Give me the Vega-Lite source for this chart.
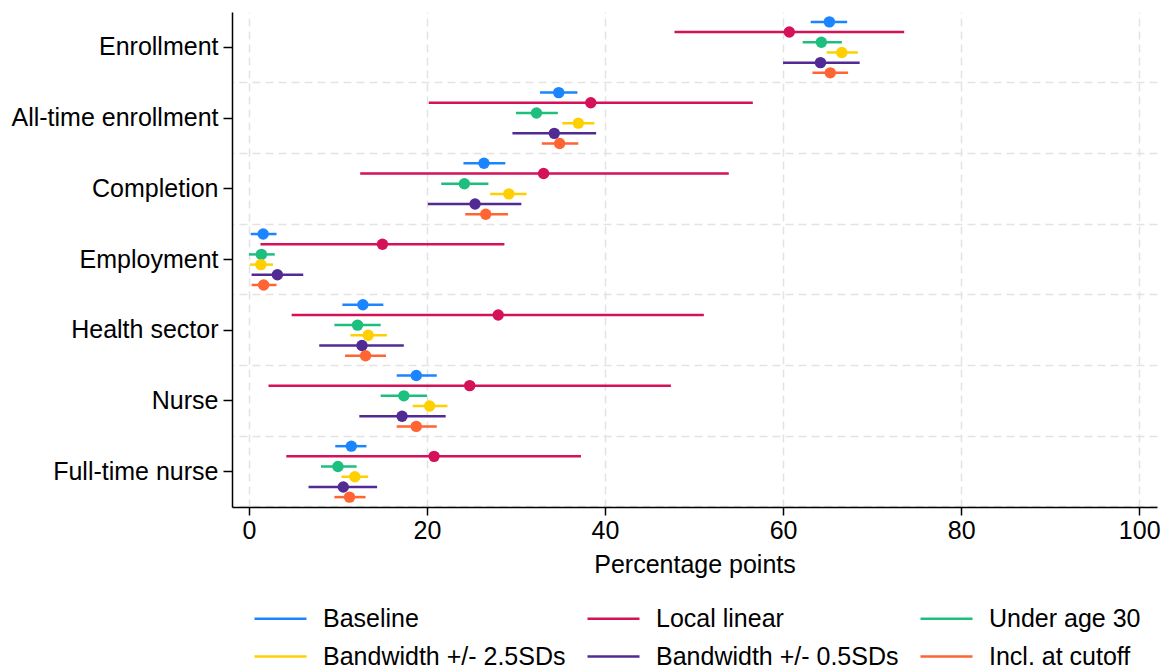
{
  "$schema": "https://vega.github.io/schema/vega-lite/v6.json",
  "autosize": {"type": "none"},
  "padding": {"left": 232, "top": 12, "right": 12, "bottom": 162},
  "width": 925,
  "height": 495,
  "background": "white",
  "config": {
    "view": {"stroke": null},
    "font": "Liberation Sans",
    "axis": {"labelFont": "Liberation Sans", "titleFont": "Liberation Sans"},
    "legend": {"labelFont": "Liberation Sans"}
  },
  "data": {
    "values": [
      {"outcome": "Enrollment", "spec": "Baseline", "est": 65.2, "lo": 63.1, "hi": 67.2},
      {"outcome": "Enrollment", "spec": "Local linear", "est": 60.7, "lo": 47.8, "hi": 73.6},
      {"outcome": "Enrollment", "spec": "Under age 30", "est": 64.3, "lo": 62.2, "hi": 66.6},
      {"outcome": "Enrollment", "spec": "Bandwidth +/- 2.5SDs", "est": 66.6, "lo": 64.9, "hi": 68.4},
      {"outcome": "Enrollment", "spec": "Bandwidth +/- 0.5SDs", "est": 64.2, "lo": 60.0, "hi": 68.6},
      {"outcome": "Enrollment", "spec": "Incl. at cutoff", "est": 65.3, "lo": 63.3, "hi": 67.3},
      {"outcome": "All-time enrollment", "spec": "Baseline", "est": 34.8, "lo": 32.7, "hi": 36.9},
      {"outcome": "All-time enrollment", "spec": "Local linear", "est": 38.4, "lo": 20.2, "hi": 56.6},
      {"outcome": "All-time enrollment", "spec": "Under age 30", "est": 32.3, "lo": 30.0, "hi": 34.7},
      {"outcome": "All-time enrollment", "spec": "Bandwidth +/- 2.5SDs", "est": 37.0, "lo": 35.2, "hi": 38.8},
      {"outcome": "All-time enrollment", "spec": "Bandwidth +/- 0.5SDs", "est": 34.3, "lo": 29.6, "hi": 39.0},
      {"outcome": "All-time enrollment", "spec": "Incl. at cutoff", "est": 34.9, "lo": 32.9, "hi": 37.0},
      {"outcome": "Completion", "spec": "Baseline", "est": 26.4, "lo": 24.1, "hi": 28.8},
      {"outcome": "Completion", "spec": "Local linear", "est": 33.1, "lo": 12.5, "hi": 53.9},
      {"outcome": "Completion", "spec": "Under age 30", "est": 24.2, "lo": 21.6, "hi": 26.9},
      {"outcome": "Completion", "spec": "Bandwidth +/- 2.5SDs", "est": 29.2, "lo": 27.1, "hi": 31.2},
      {"outcome": "Completion", "spec": "Bandwidth +/- 0.5SDs", "est": 25.4, "lo": 20.1, "hi": 30.6},
      {"outcome": "Completion", "spec": "Incl. at cutoff", "est": 26.6, "lo": 24.3, "hi": 29.1},
      {"outcome": "Employment", "spec": "Baseline", "est": 1.6, "lo": 0.2, "hi": 3.1},
      {"outcome": "Employment", "spec": "Local linear", "est": 15.0, "lo": 1.3, "hi": 28.7},
      {"outcome": "Employment", "spec": "Under age 30", "est": 1.4, "lo": 0.0, "hi": 2.9},
      {"outcome": "Employment", "spec": "Bandwidth +/- 2.5SDs", "est": 1.35, "lo": 0.1, "hi": 2.7},
      {"outcome": "Employment", "spec": "Bandwidth +/- 0.5SDs", "est": 3.2, "lo": 0.3, "hi": 6.1},
      {"outcome": "Employment", "spec": "Incl. at cutoff", "est": 1.65, "lo": 0.3, "hi": 3.1},
      {"outcome": "Health sector", "spec": "Baseline", "est": 12.8, "lo": 10.5, "hi": 15.1},
      {"outcome": "Health sector", "spec": "Local linear", "est": 28.0, "lo": 4.8, "hi": 51.1},
      {"outcome": "Health sector", "spec": "Under age 30", "est": 12.2, "lo": 9.6, "hi": 14.8},
      {"outcome": "Health sector", "spec": "Bandwidth +/- 2.5SDs", "est": 13.4, "lo": 11.4, "hi": 15.5},
      {"outcome": "Health sector", "spec": "Bandwidth +/- 0.5SDs", "est": 12.7, "lo": 7.9, "hi": 17.4},
      {"outcome": "Health sector", "spec": "Incl. at cutoff", "est": 13.1, "lo": 10.8, "hi": 15.4},
      {"outcome": "Nurse", "spec": "Baseline", "est": 18.8, "lo": 16.6, "hi": 21.1},
      {"outcome": "Nurse", "spec": "Local linear", "est": 24.8, "lo": 2.2, "hi": 47.4},
      {"outcome": "Nurse", "spec": "Under age 30", "est": 17.4, "lo": 14.8, "hi": 20.0},
      {"outcome": "Nurse", "spec": "Bandwidth +/- 2.5SDs", "est": 20.3, "lo": 18.4, "hi": 22.3},
      {"outcome": "Nurse", "spec": "Bandwidth +/- 0.5SDs", "est": 17.2, "lo": 12.4, "hi": 22.1},
      {"outcome": "Nurse", "spec": "Incl. at cutoff", "est": 18.8, "lo": 16.6, "hi": 21.1},
      {"outcome": "Full-time nurse", "spec": "Baseline", "est": 11.5, "lo": 9.7, "hi": 13.2},
      {"outcome": "Full-time nurse", "spec": "Local linear", "est": 20.8, "lo": 4.2, "hi": 37.3},
      {"outcome": "Full-time nurse", "spec": "Under age 30", "est": 10.0, "lo": 8.1, "hi": 12.1},
      {"outcome": "Full-time nurse", "spec": "Bandwidth +/- 2.5SDs", "est": 11.9, "lo": 10.4, "hi": 13.4},
      {"outcome": "Full-time nurse", "spec": "Bandwidth +/- 0.5SDs", "est": 10.6, "lo": 6.7, "hi": 14.4},
      {"outcome": "Full-time nurse", "spec": "Incl. at cutoff", "est": 11.3, "lo": 9.6, "hi": 13.1}
    ]
  },
  "layer": [
    {
      "mark": {"type": "rule", "strokeWidth": 2.5},
      "encoding": {
        "x": {
          "field": "lo", "type": "quantitative",
          "scale": {"domain": [-1.9, 102], "nice": false, "zero": false},
          "axis": {
            "values": [0, 20, 40, 60, 80, 100],
            "title": "Percentage points",
            "titleFontSize": 25, "titleFontWeight": "normal", "titleColor": "black", "titlePadding": 9,
            "labelFontSize": 25, "labelColor": "black", "labelPadding": 3,
            "domainColor": "black", "domainWidth": 1.5,
            "tickColor": "black", "tickSize": 8, "tickWidth": 1.5,
            "grid": true, "gridDash": [8, 5], "gridColor": "#e3e3e3", "gridWidth": 1.5
          }
        },
        "x2": {"field": "hi"},
        "y": {
          "field": "outcome", "type": "nominal",
          "sort": ["Enrollment", "All-time enrollment", "Completion", "Employment", "Health sector", "Nurse", "Full-time nurse"],
          "scale": {"paddingInner": 0, "paddingOuter": 0},
          "axis": {
            "orient": "right", "domain": false, "ticks": false, "labels": false, "title": null,
            "grid": true, "bandPosition": 1, "tickExtra": false,
            "gridDash": [8, 5], "gridColor": "#e3e3e3", "gridWidth": 1.5
          }
        },
        "yOffset": {
          "field": "spec", "type": "nominal",
          "sort": ["Baseline", "Local linear", "Under age 30", "Bandwidth +/- 2.5SDs", "Bandwidth +/- 0.5SDs", "Incl. at cutoff"],
          "scale": {"paddingInner": 0, "paddingOuter": 0.47}
        },
        "color": {
          "field": "spec", "type": "nominal",
          "sort": ["Baseline", "Local linear", "Under age 30", "Bandwidth +/- 2.5SDs", "Bandwidth +/- 0.5SDs", "Incl. at cutoff"],
          "scale": {
            "domain": ["Baseline", "Local linear", "Under age 30", "Bandwidth +/- 2.5SDs", "Bandwidth +/- 0.5SDs", "Incl. at cutoff"],
            "range": ["#1a85ff", "#d41159", "#1dbf7f", "#ffd000", "#512a94", "#ff6433"]
          },
          "legend": {
            "title": null, "orient": "none", "legendX": 21, "legendY": 594,
            "direction": "horizontal", "clipHeight": 25,
            "columns": 3, "columnPadding": 20, "rowPadding": 12, "padding": 0,
            "symbolType": "stroke", "symbolSize": 2704, "symbolStrokeWidth": 2.5,
            "labelFontSize": 25, "labelColor": "black", "labelOffset": 15, "labelLimit": 400
          }
        }
      }
    },
    {
      "mark": {"type": "circle", "size": 130, "opacity": 1},
      "encoding": {
        "x": {"field": "est", "type": "quantitative"},
        "y": {
          "field": "outcome", "type": "nominal",
          "sort": ["Enrollment", "All-time enrollment", "Completion", "Employment", "Health sector", "Nurse", "Full-time nurse"],
          "axis": {
            "orient": "left", "title": null, "grid": false,
            "labelFontSize": 25, "labelColor": "black", "labelPadding": 5, "labelLimit": 400,
            "domainColor": "black", "domainWidth": 1.5,
            "tickColor": "black", "tickSize": 9, "tickWidth": 1.5
          }
        },
        "yOffset": {
          "field": "spec", "type": "nominal",
          "sort": ["Baseline", "Local linear", "Under age 30", "Bandwidth +/- 2.5SDs", "Bandwidth +/- 0.5SDs", "Incl. at cutoff"]
        },
        "color": {"field": "spec", "type": "nominal"}
      }
    }
  ],
  "resolve": {"axis": {"y": "independent"}}
}
